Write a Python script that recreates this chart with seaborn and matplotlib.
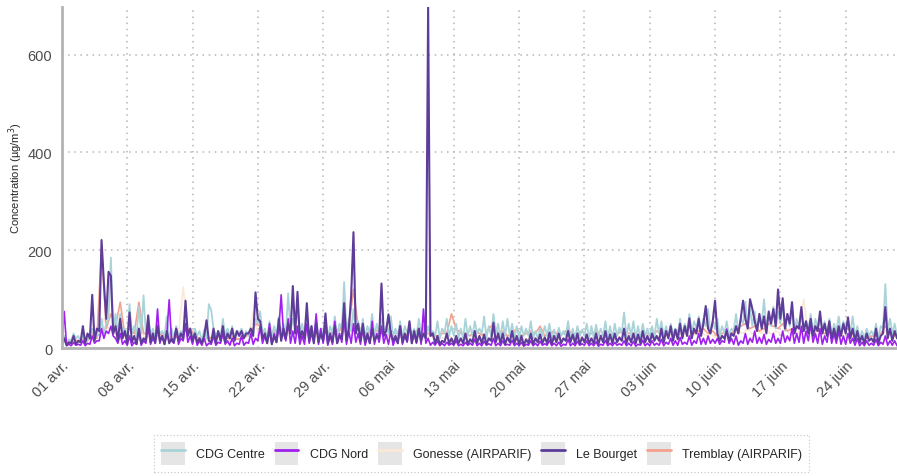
import matplotlib
matplotlib.use("Agg")
import matplotlib.pyplot as plt
import matplotlib.dates as mdates
from matplotlib.patches import Rectangle
from matplotlib.lines import Line2D
from matplotlib.legend_handler import HandlerTuple
from matplotlib.ticker import FuncFormatter
import numpy as np
import pandas as pd
import seaborn as sns

# data : hourly readings resampled (ug/m3)
start = pd.Timestamp("2024-04-01")

# Le Bourget, every 6 h
le_bourget = [
    8, 20, 6, 12, 10, 25, 8, 15, 12, 45, 10, 30, 20, 109, 15, 40, 35, 221, 134, 60, 156, 148, 30, 45, 15, 60, 20, 35,
    10, 73, 12, 25, 8, 40, 10, 20, 15, 67, 12, 30, 10, 45, 15, 25, 8, 35, 10, 20, 12, 40, 15, 30, 20, 97, 25, 40,
    15, 30, 12, 20, 10, 25, 57, 15, 12, 40, 10, 35, 15, 45, 12, 30, 20, 40, 15, 35, 25, 35, 20, 30, 30, 40, 25, 114,
    60, 55, 20, 30, 10, 40, 8, 25, 12, 60, 15, 40, 20, 50, 30, 127, 30, 115, 20, 35, 20, 92, 15, 45, 10, 50, 12, 30,
    15, 71, 10, 30, 12, 45, 10, 25, 20, 92, 15, 40, 107, 237, 30, 50, 15, 50, 12, 30, 10, 40, 15, 25, 20, 132, 25, 35,
    69, 30, 15, 25, 10, 45, 12, 30, 15, 55, 10, 35, 12, 40, 15, 30, 20, 697, 25, 30, 10, 25, 8, 15, 12, 30, 10, 20,
    8, 25, 10, 20, 10, 30, 8, 18, 12, 35, 10, 25, 10, 28, 8, 20, 15, 52, 12, 30, 10, 30, 8, 22, 12, 35, 10, 25,
    8, 25, 6, 18, 10, 30, 8, 20, 12, 28, 10, 22, 10, 32, 8, 25, 12, 30, 10, 20, 15, 35, 12, 28, 10, 30, 8, 22,
    12, 28, 10, 20, 10, 30, 8, 25, 12, 35, 10, 28, 10, 30, 12, 22, 15, 40, 10, 25, 12, 30, 10, 28, 10, 35, 12, 25,
    12, 30, 15, 25, 15, 40, 12, 35, 20, 45, 15, 38, 18, 50, 20, 45, 25, 61, 20, 40, 30, 60, 25, 50, 86, 40, 30, 55,
    97, 30, 15, 25, 20, 35, 15, 30, 25, 45, 30, 60, 97, 60, 40, 100, 80, 55, 35, 70, 40, 65, 30, 75, 50, 80, 45, 120,
    60, 102, 40, 70, 50, 94, 30, 45, 40, 84, 35, 55, 30, 60, 25, 45, 35, 75, 30, 50, 25, 55, 20, 40, 20, 45, 25, 50,
    30, 63, 20, 40, 15, 35, 12, 25, 10, 30, 15, 20, 12, 40, 10, 25, 30, 84, 20, 40, 15, 35, 20,
]

# CDG Nord, every 6 h
cdg_nord = [
    10, 75, 5, 8, 5, 12, 6, 8, 6, 15, 5, 10, 8, 25, 10, 15, 15, 40, 20, 35, 30, 45, 25, 20, 10, 30, 8, 15,
    6, 25, 5, 12, 8, 35, 6, 15, 10, 45, 8, 20, 12, 80, 10, 25, 8, 30, 99, 15, 10, 40, 8, 20, 15, 50, 12, 25,
    8, 30, 6, 15, 6, 20, 5, 10, 8, 25, 6, 12, 10, 30, 8, 15, 6, 20, 5, 10, 8, 25, 6, 12, 10, 30, 8, 20,
    15, 45, 10, 25, 10, 50, 8, 30, 12, 40, 109, 30, 15, 60, 10, 35, 10, 45, 8, 25, 8, 50, 10, 30, 12, 70, 8, 40,
    10, 45, 6, 25, 8, 55, 10, 30, 12, 60, 8, 35, 10, 50, 12, 30, 8, 40, 6, 25, 10, 55, 8, 30, 12, 45, 10, 28,
    8, 35, 6, 20, 10, 45, 8, 25, 12, 50, 10, 30, 10, 40, 8, 80, 10, 20, 6, 12, 6, 15, 5, 10, 5, 12, 6, 10,
    6, 15, 5, 8, 5, 12, 6, 10, 6, 18, 5, 10, 5, 14, 6, 9, 6, 20, 5, 10, 5, 15, 6, 8, 6, 16, 5, 10,
    5, 12, 4, 8, 6, 15, 5, 10, 5, 14, 6, 9, 6, 16, 5, 10, 5, 12, 4, 8, 6, 18, 5, 10, 5, 14, 6, 9,
    6, 15, 5, 10, 5, 13, 4, 8, 6, 16, 5, 10, 5, 12, 6, 9, 6, 15, 5, 10, 5, 14, 4, 8, 6, 16, 5, 10,
    5, 15, 6, 10, 6, 18, 5, 12, 8, 20, 6, 15, 6, 22, 8, 12, 8, 25, 6, 15, 10, 30, 8, 20, 8, 25, 10, 18,
    10, 20, 8, 15, 12, 39, 10, 20, 8, 25, 6, 15, 10, 30, 8, 20, 12, 35, 10, 22, 10, 28, 8, 18, 12, 30, 10, 20,
    10, 35, 12, 25, 15, 40, 10, 30, 12, 45, 10, 35, 15, 50, 12, 30, 10, 40, 8, 25, 12, 45, 10, 30, 10, 35, 8, 25,
    8, 30, 10, 20, 6, 20, 5, 12, 5, 15, 6, 10, 6, 18, 5, 12, 8, 25, 6, 15, 6, 15, 5,
]

# CDG Centre, every 6 h
cdg_centre = [
    10, 25, 12, 18, 15, 30, 20, 25, 12, 28, 15, 20, 18, 40, 20, 30, 25, 60, 30, 50, 60, 185, 40, 70, 30, 70, 25, 40,
    20, 90, 30, 45, 25, 85, 30, 108, 30, 60, 25, 40, 20, 50, 30, 35, 25, 65, 20, 40, 20, 45, 25, 35, 30, 55, 25, 40,
    20, 40, 25, 35, 15, 38, 20, 90, 78, 40, 25, 35, 20, 60, 25, 40, 25, 45, 20, 35, 30, 40, 25, 35, 25, 40, 30, 60,
    50, 75, 30, 40, 20, 55, 25, 45, 25, 65, 30, 50, 30, 112, 35, 60, 40, 80, 30, 50, 25, 70, 30, 45, 20, 60, 25, 40,
    25, 55, 20, 45, 30, 65, 25, 50, 40, 135, 30, 60, 35, 80, 30, 55, 25, 60, 20, 45, 30, 70, 25, 50, 25, 60, 30, 45,
    30, 65, 25, 40, 25, 55, 20, 45, 30, 50, 25, 40, 25, 60, 30, 45, 20, 45, 25, 35, 25, 55, 20, 40, 30, 60, 25, 45,
    25, 50, 20, 40, 20, 60, 25, 45, 25, 55, 30, 40, 30, 65, 20, 45, 25, 70, 30, 50, 20, 55, 25, 60, 25, 50, 20, 45,
    20, 45, 25, 40, 25, 55, 20, 35, 20, 40, 25, 45, 25, 50, 20, 38, 20, 42, 25, 35, 25, 55, 20, 40, 20, 45, 25, 38,
    25, 50, 20, 45, 20, 48, 25, 40, 25, 55, 20, 45, 20, 50, 25, 42, 30, 73, 25, 50, 25, 55, 20, 45, 20, 50, 25, 40,
    25, 45, 20, 60, 30, 55, 25, 45, 25, 50, 30, 40, 30, 60, 25, 50, 35, 70, 30, 55, 40, 65, 35, 60, 45, 80, 30, 55,
    40, 60, 25, 45, 30, 55, 25, 40, 35, 70, 30, 60, 50, 95, 40, 80, 45, 75, 35, 60, 50, 100, 40, 70, 45, 85, 40, 75,
    50, 90, 35, 70, 45, 80, 30, 60, 40, 75, 35, 55, 35, 70, 30, 60, 40, 65, 35, 55, 30, 60, 25, 50, 35, 65, 30, 55,
    40, 60, 30, 65, 25, 45, 20, 35, 20, 40, 25, 35, 25, 50, 20, 45, 40, 131, 35, 60, 30, 50, 25,
]

# Tremblay (AIRPARIF), at 06 h and 18 h
tremblay = [
    15, 10, 20, 12, 18, 15, 30, 20, 205, 40, 70, 45, 94, 25,
    40, 30, 94, 30, 30, 25, 25, 30, 20, 25, 22, 30, 35, 40,
    25, 20, 18, 22, 20, 25, 25, 20, 22, 18, 20, 25, 30, 50,
    45, 30, 25, 35, 30, 40, 35, 60, 40, 30, 45, 35, 30, 25,
    35, 30, 40, 35, 60, 40, 120, 45, 35, 30, 40, 35, 30, 40,
    35, 30, 30, 25, 35, 30, 40, 35, 30, 25, 25, 30, 30, 70,
    40, 30, 30, 25, 35, 30, 25, 40, 50, 30, 35, 25, 30, 40,
    25, 30, 35, 30, 45, 25, 30, 35, 25, 30, 40, 25, 30, 35,
    25, 30, 35, 25, 30, 28, 25, 32, 35, 30, 30, 25, 28, 30,
    25, 35, 30, 28, 35, 30, 40, 35, 45, 30, 35, 40, 30, 35,
    25, 30, 35, 30, 40, 45, 50, 40, 45, 35, 40, 50, 45, 40,
    50, 35, 40, 45, 35, 40, 40, 35, 35, 30, 30, 35, 35, 40,
    40, 30, 25, 20, 20, 25, 25, 30, 45, 35, 25,
]

# Gonesse (AIRPARIF), at 00 h and 12 h
gonesse = [
    10, 15, 12, 18, 15, 20, 18, 25, 30, 60, 40, 35, 25, 30,
    20, 35, 25, 30, 20, 25, 18, 22, 15, 25, 20, 30, 125, 35,
    20, 25, 15, 20, 18, 22, 20, 25, 15, 20, 18, 22, 25, 75,
    30, 35, 20, 25, 22, 30, 25, 35, 30, 28, 25, 30, 20, 25,
    22, 28, 25, 30, 30, 40, 35, 45, 25, 30, 20, 28, 25, 30,
    22, 25, 20, 28, 25, 30, 22, 26, 20, 25, 18, 22, 20, 25,
    18, 22, 15, 20, 18, 25, 20, 22, 15, 28, 18, 20, 20, 25,
    15, 20, 18, 22, 20, 25, 15, 22, 18, 20, 20, 25, 15, 22,
    18, 20, 15, 22, 20, 25, 18, 20, 15, 22, 20, 24, 18, 22,
    20, 25, 22, 28, 25, 30, 22, 35, 25, 30, 28, 35, 25, 30,
    22, 28, 25, 30, 28, 35, 30, 40, 28, 35, 30, 38, 28, 35,
    30, 40, 28, 35, 30, 100, 28, 35, 25, 30, 28, 32, 25, 30,
    22, 28, 20, 25, 18, 22, 20, 25, 30, 40, 22,
]

names = ["CDG Centre", "CDG Nord", "Gonesse (AIRPARIF)", "Le Bourget", "Tremblay (AIRPARIF)"]
colors = {
    "CDG Centre": "#a9d3d8",
    "CDG Nord": "#a020f0",
    "Gonesse (AIRPARIF)": "#fbe9d6",
    "Le Bourget": "#5e3c99",
    "Tremblay (AIRPARIF)": "#f4a08e",
}
widths = {"CDG Centre": 1.3, "CDG Nord": 1.2, "Gonesse (AIRPARIF)": 1.2,
          "Le Bourget": 1.5, "Tremblay (AIRPARIF)": 1.2}


def frame(name, vals, step_h, offset_h=0):
    t = start + pd.to_timedelta(offset_h + np.arange(len(vals)) * step_h, unit="h")
    return pd.DataFrame({"date": t, "value": vals, "station": name})


df = pd.concat([
    frame("Gonesse (AIRPARIF)", gonesse, 12),
    frame("Tremblay (AIRPARIF)", tremblay, 12, 6),
    frame("CDG Centre", cdg_centre, 6),
    frame("CDG Nord", cdg_nord, 6),
    frame("Le Bourget", le_bourget, 6),
], ignore_index=True)

sns.set_style("white")
plt.rcParams["font.family"] = ["Liberation Sans", "DejaVu Sans"]

fig = plt.figure(figsize=(8.97, 4.77), dpi=100)
ax = fig.add_axes([0.069, 0.268, 0.931, 0.715])

draw_order = ["Gonesse (AIRPARIF)", "Tremblay (AIRPARIF)", "CDG Centre", "CDG Nord", "Le Bourget"]
for st in draw_order:
    sub = df[df.station == st]
    sns.lineplot(data=sub, x="date", y="value", ax=ax, color=colors[st],
                 linewidth=widths[st], legend=False, estimator=None)

ax.set_xlim(start, start + pd.Timedelta(hours=89 * 24 + 12))
ax.set_ylim(0, 697)
ax.set_yticks([0, 200, 400, 600])

mois = {4: "avr.", 5: "mai", 6: "juin"}
ticks = pd.date_range(start, periods=13, freq="7D")
ax.set_xticks(ticks)
ax.xaxis.set_major_formatter(FuncFormatter(
    lambda v, p: "%02d %s" % (mdates.num2date(v).day, mois[mdates.num2date(v).month])))
plt.setp(ax.get_xticklabels(), rotation=45, ha="right", va="top", rotation_mode="anchor")

ax.grid(True, color="#b5b5b5", linestyle=(0, (1, 3)), linewidth=1.1)
for s in ["top", "right"]:
    ax.spines[s].set_visible(False)
for s in ["left", "bottom"]:
    ax.spines[s].set_color("#b3b3b3")
    ax.spines[s].set_linewidth(2)
ax.tick_params(axis="both", length=4, width=1.2, color="#333333", labelsize=10.5,
               labelcolor="#4d4d4d", pad=3)
ax.set_xlabel("")
ax.set_ylabel("Concentration (µg/m$^3$)", fontsize=8, labelpad=2)

handles = []
for n in names:
    bg = Rectangle((0, 0), 1, 1, facecolor="#e5e5e5", edgecolor="none")
    ln = Line2D([], [], color=colors[n], linewidth=2)
    handles.append((bg, ln))
leg = fig.legend(handles, names, loc="center", bbox_to_anchor=(0.537, 0.047), ncol=5,
                 handler_map={tuple: HandlerTuple(ndivide=1, pad=0)},
                 handlelength=1.9, handleheight=2.4, handletextpad=0.9, columnspacing=0.8,
                 fontsize=9, frameon=True, fancybox=False, borderpad=0.55)
leg.get_frame().set_linestyle((0, (1, 2)))
leg.get_frame().set_edgecolor("#b5b5b5")
leg.get_frame().set_linewidth(0.8)

fig.savefig("out.png", dpi=100)
